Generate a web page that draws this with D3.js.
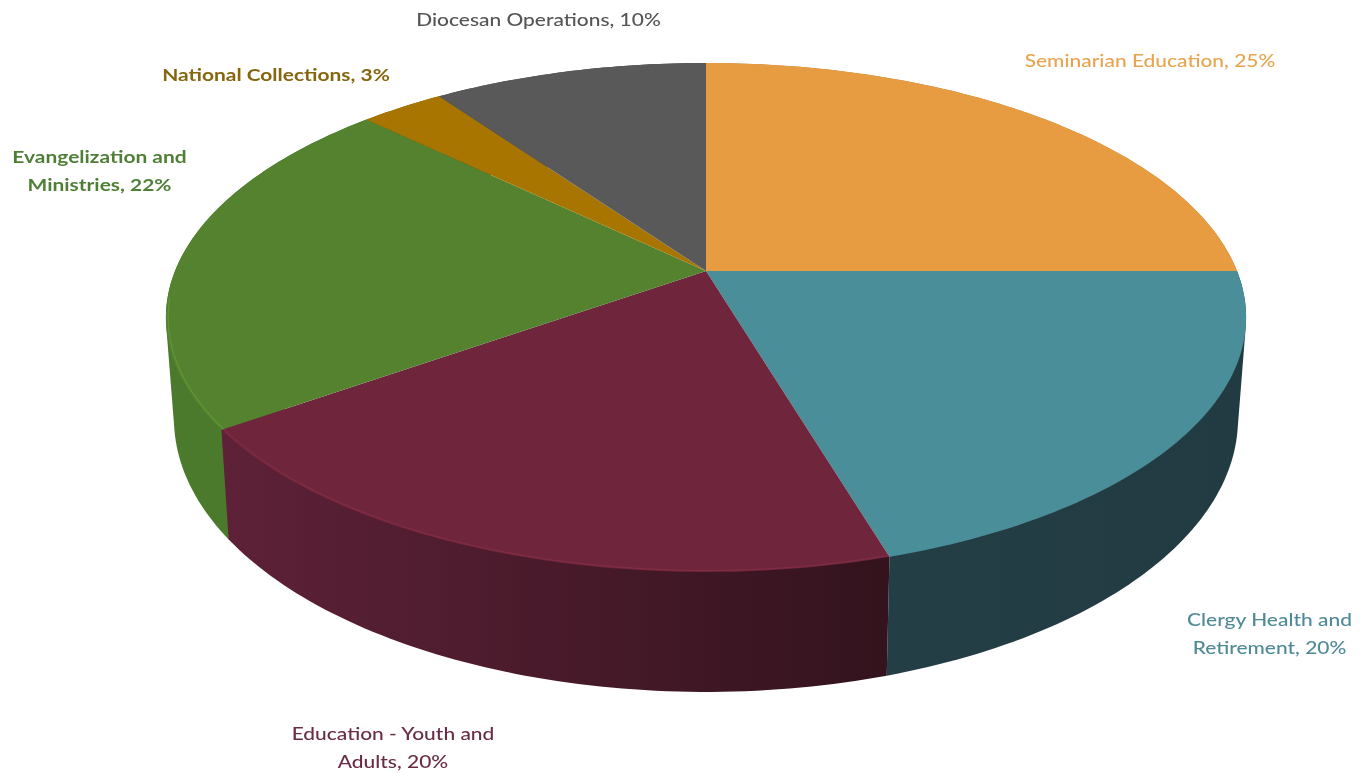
<!DOCTYPE html>
<html><head><meta charset="utf-8">
<script src="https://cdn.jsdelivr.net/npm/d3@7"></script>
<style>html,body{margin:0;padding:0;background:#fff;overflow:hidden}</style>
</head><body>
<svg id="c" width="1366" height="774"></svg>
<script>
// ---- data ----
const categories = ["Seminarian Education","Clergy Health and Retirement","Education - Youth and Adults","Evangelization and Ministries","National Collections","Diocesan Operations"];
const values = [25,20.4,19.8,22,3,9.8];
// ---- styles ----
const topColors = ["#e89c42","#4a8e99","#6f263c","#54822f","#a87600","#595959"];
const wallLeft = ["#b87a30","#243e46","#5e2138","#4b7a2c","#7c5800","#444444"];
const wallRight  = ["#b87a30","#223b42","#33131d","#4b7a2c","#7c5800","#444444"];
const labelColors = ["#e8a44e","#4f8a96","#6a2c44","#4f7f36","#86650f","#555555"];
const labelLines = [["Seminarian Education, 25%"],["Clergy Health and","Retirement, 20%"],["Education - Youth and","Adults, 20%"],["Evangelization and","Ministries, 22%"],["National Collections, 3%"],["Diocesan Operations, 10%"]];
const labelAnchors = [[1150,60],[1269.5,619],[393,733],[99.5,156],[276,74],[538.5,19]];
const lineGap = 28, labelStretch = 1.27;
// ---- projection of the pie disc ----
const p = 0.1827, depthScale = 98, shrink = 0.015;
const sx = d3.scaleLinear().domain([-1,1]).range([706-531,706+531]);
const sy = d3.scaleLinear().domain([-1,1]).range([271-246,271+246]);
function proj(a, r, d){
  const u = r*Math.sin(a), v = -r*Math.cos(a), w = 1-p*v;
  return [sx(u*(1-shrink*d)/w), sy(v/w)+depthScale*d/w];
}
const svg = d3.select("#c");
const defs = svg.append("defs");
const softF = defs.append("filter").attr("id","soft").attr("color-interpolation-filters","sRGB");
softF.append("feGaussianBlur").attr("stdDeviation",0.55);
const softT = defs.append("filter").attr("id","softText").attr("color-interpolation-filters","sRGB");
softT.append("feGaussianBlur").attr("stdDeviation",0.7);
const g = svg.append("g").attr("filter","url(#soft)");
const arcs = d3.pie().sort(null)(values);
arcs.forEach((a,i)=>a.i=i);
const line = d3.line();
const closed = pts => line(pts)+"Z";
const STEP = Math.PI/180;
const sample = (a,r,d) => {
  const n = Math.max(2,Math.round((a.endAngle-a.startAngle)/STEP));
  return d3.range(n+1).map(k=>proj(a.startAngle+(a.endAngle-a.startAngle)*k/n,r,d));
};
// walls: far slices first, near slices last; the disc then covers the far side
arcs.slice().sort((a,b)=>d3.descending(Math.cos((a.startAngle+a.endAngle)/2),Math.cos((b.startAngle+b.endAngle)/2))).forEach(a=>{
  const i = a.i;
  const pts = sample(a,1,0).concat(sample(a,1,1));
  const xs = pts.map(q=>q[0]);
  const grad = defs.append("linearGradient").attr("id","wall"+i).attr("gradientUnits","userSpaceOnUse")
    .attr("x1",d3.min(xs)).attr("x2",d3.max(xs)).attr("y1",0).attr("y2",0);
  grad.append("stop").attr("offset",0).attr("stop-color",wallLeft[i]);
  grad.append("stop").attr("offset",1).attr("stop-color",wallRight[i]);
  g.append("path").attr("d",closed(d3.polygonHull(pts))).attr("fill",`url(#wall${i})`);
});
// top faces
arcs.forEach((a,i)=>{
  g.append("path").attr("d",closed([proj(0,0,0)].concat(sample(a,1,0)))).attr("fill",topColors[i]);
});
// bevel highlight on the near rim of the front slices
arcs.forEach((a,i)=>{
  if(i!==2 && i!==3) return;
  const n = Math.round((a.endAngle-a.startAngle)/STEP);
  const rim = d3.range(n+1).map(k=>a.startAngle+(a.endAngle-a.startAngle)*k/n)
    .filter(t=>Math.cos(t)<-0.1).map(t=>proj(t,0.996,0));
  g.append("path").attr("d",line(rim)).attr("fill","none")
   .attr("stroke",d3.color(topColors[i]).brighter(0.4)).attr("stroke-width",1.2);
});
// labels
const lg = svg.append("g").attr("filter","url(#softText)");
labelLines.forEach((ls,i)=>{
  ls.forEach((t,j)=>{
    lg.append("text").attr("transform",`translate(${labelAnchors[i][0]},${labelAnchors[i][1]+j*lineGap}) scale(${labelStretch},1)`)
      .attr("text-anchor","middle").attr("dominant-baseline","central")
      .attr("font-family","Lato, 'Open Sans', sans-serif").attr("font-size",16.5)
      .attr("font-weight", i===4||i===3?700:500)
      .attr("fill",labelColors[i]).text(t);
  });
});
</script>
</body></html>
